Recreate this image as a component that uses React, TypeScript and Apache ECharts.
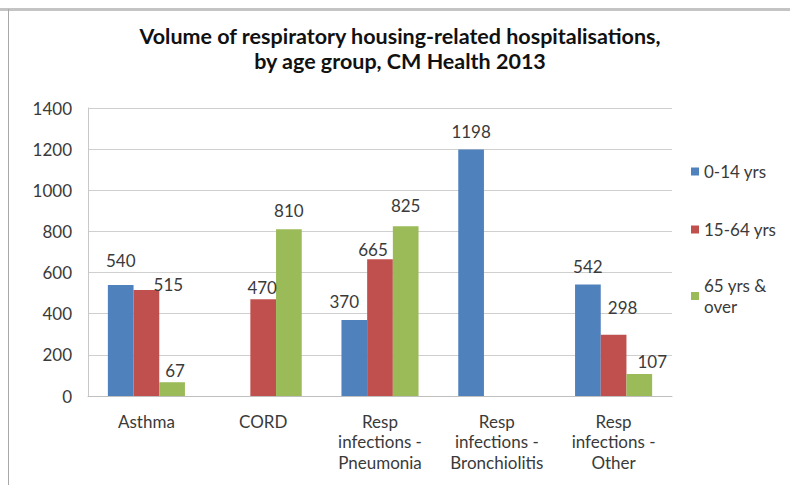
import React, { useEffect, useRef } from "react";
import * as echarts from "echarts";

const categories = [
  "Asthma",
  "CORD",
  "Resp\ninfections -\nPneumonia",
  "Resp\ninfections -\nBronchiolitis",
  "Resp\ninfections -\nOther",
];
const seriesNames = ["0-14 yrs", "15-64 yrs", "65 yrs &\nover"];
const kids = [540, null, 370, 1198, 542];
const adults = [515, 470, 665, null, 298];
const seniors = [67, 810, 825, null, 107];
const yTicks = { min: 0, max: 1400, interval: 200 };
const titleText =
  "Volume of respiratory housing-related hospitalisations,\nby age group, CM Health 2013";

const colors = ["#4F81BD", "#C0504D", "#9BBB59"];
// label nudges [dx, dy] per series, per category (style only)
const labelNudges: number[][][] = [
  [[0, -6], [0, 0], [-10, 0], [0, 0], [0, 0]],
  [[22, 13], [-1, 7], [-7, 9], [0, 0], [9, -9]],
  [[3, 7], [0, 0], [0, -2], [0, 0], [13, 6]],
];

const FONT = "Lato, 'Open Sans', sans-serif";

export default function App() {
  const ref = useRef<HTMLDivElement>(null);
  useEffect(() => {
    if (!ref.current) return;
    const chart = echarts.init(ref.current, null, { renderer: "svg" });
    const allData = [kids, adults, seniors];
    const series = allData.map((vals, si) => ({
      name: seriesNames[si],
      type: "bar",
      barGap: "0%",
      barCategoryGap: "34%",
      itemStyle: { color: colors[si] },
      data: vals.map((v, ci) => ({
        value: v,
        label: {
          offset: labelNudges[si][ci],
        },
      })),
      label: {
        show: true,
        position: "top",
        distance: 10,
        color: "#3a3a3a",
        fontSize: 17,
        fontFamily: FONT,
      },
    }));
    chart.setOption({
      animation: false,
      backgroundColor: "#ffffff",
      textStyle: { fontFamily: FONT },
      title: {
        text: titleText,
        left: 395,
        textAlign: "center",
        top: 18,
        textStyle: {
          fontSize: 21.5,
          fontWeight: "bold",
          color: "#111",
          lineHeight: 25,
          fontFamily: FONT,
        },
      },
      legend: {
        orient: "vertical",
        left: 686,
        top: 156,
        itemWidth: 8,
        itemHeight: 8,
        itemGap: 37,
        icon: "rect",
        textStyle: {
          fontSize: 17,
          color: "#3a3a3a",
          lineHeight: 21,
          fontFamily: FONT,
        },
        data: [
          { name: seriesNames[0] },
          { name: seriesNames[1] },
          { name: seriesNames[2], textStyle: { padding: [0, 0, -21, 0] } },
        ],
      },
      grid: { left: 88, right: 118, top: 108, bottom: 89 },
      xAxis: {
        type: "category",
        data: categories,
        axisLine: { lineStyle: { color: "#bfbfbf" } },
        axisTick: { show: false },
        axisLabel: {
          color: "#3a3a3a",
          fontSize: 17,
          lineHeight: 20.5,
          margin: 15,
          interval: 0,
          fontFamily: FONT,
        },
      },
      yAxis: {
        type: "value",
        min: yTicks.min,
        max: yTicks.max,
        interval: yTicks.interval,
        axisLine: { show: true, lineStyle: { color: "#c8c8c8" } },
        axisTick: { show: false },
        splitLine: { lineStyle: { color: "#cfcfcf" } },
        axisLabel: {
          color: "#3a3a3a",
          fontSize: 17,
          margin: 16,
          fontFamily: FONT,
          formatter: (v: number) => String(v),
        },
      },
      graphic: [
        {
          type: "line",
          shape: { x1: 0, y1: 9.5, x2: 790, y2: 9.5 },
          style: { stroke: "#c4c4c4", lineWidth: 3 },
          silent: true,
        },
        {
          type: "line",
          shape: { x1: 8.5, y1: 9, x2: 8.5, y2: 485 },
          style: { stroke: "#a8a8a8", lineWidth: 1 },
          silent: true,
        },
      ],
      series,
    });
    return () => chart.dispose();
  }, []);
  return (
    <div
      ref={ref}
      style={{ position: "fixed", left: 0, top: 0, width: 790, height: 485 }}
    />
  );
}
